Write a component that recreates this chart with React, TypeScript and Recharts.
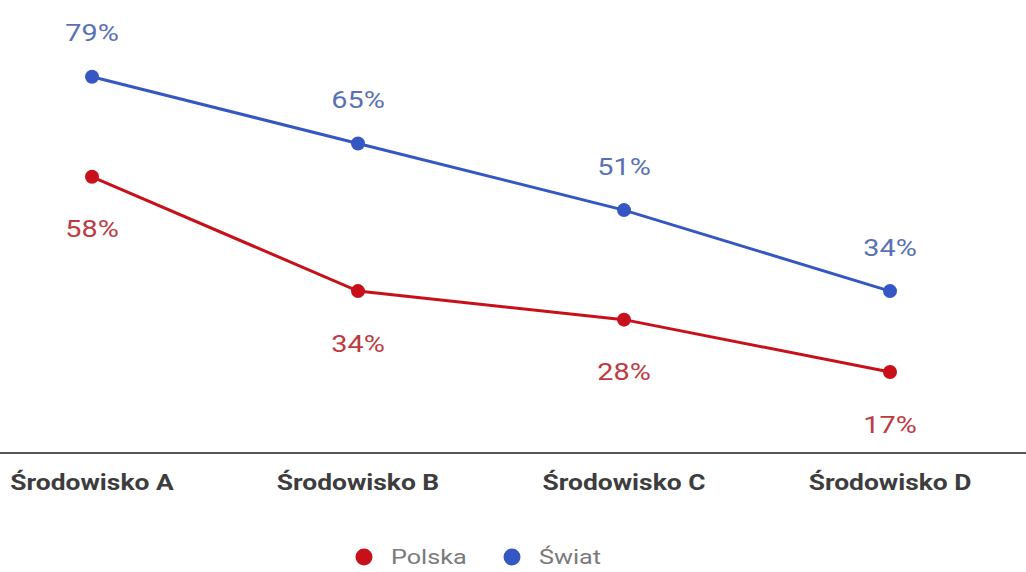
import { LineChart, Line, XAxis, YAxis, Legend } from 'recharts'

const categories = ['Środowisko A', 'Środowisko B', 'Środowisko C', 'Środowisko D']
const polska = [58, 34, 28, 17]
const swiat = [79, 65, 51, 34]

const series = [
  { key: 'polska', name: 'Polska', color: '#c8101a', labelColor: '#bd3a40' },
  { key: 'swiat', name: 'Świat', color: '#3557c4', labelColor: '#5a70b4' },
]

const data = categories.map((name, i) => ({ name, polska: polska[i], swiat: swiat[i] }))

const FONT = 'Roboto, "Noto Sans", sans-serif'
// the reference text looks a bit wide, so stretch it horizontally
const SX = 1.2

function makeLabel(color: string, dy: number) {
  return (props: any) => {
    const { x, y, value, index } = props
    return (
      <text
        key={index}
        transform={`translate(${x},${y + dy}) scale(${SX},1)`}
        fill={color}
        fontSize={24}
        fontFamily={FONT}
        textAnchor="middle"
        dominantBaseline="central"
      >
        {value}%
      </text>
    )
  }
}

function Tick(props: any) {
  const { x, y, payload } = props
  return (
    <text
      transform={`translate(${x},${y}) scale(${SX},1)`}
      fill="#3d3d3d"
      fontSize={22}
      fontWeight={700}
      fontFamily={FONT}
      textAnchor="middle"
      dominantBaseline="central"
    >
      {payload.value}
    </text>
  )
}

function LegendContent() {
  return (
    <div style={{ display: 'flex', alignItems: 'center', fontFamily: FONT }}>
      {series.map((s, i) => (
        <div key={s.key} style={{ display: 'flex', alignItems: 'center', marginRight: i === 0 ? 49 : 0 }}>
          <svg width={18} height={18} style={{ marginRight: 18 }}>
            <circle cx={9} cy={9} r={8.5} fill={s.color} />
          </svg>
          <span
            style={{
              color: '#7a7a7a',
              fontSize: 21,
              display: 'inline-block',
              transform: `scaleX(${SX})`,
              transformOrigin: 'left center',
            }}
          >
            {s.name}
          </span>
        </div>
      ))}
    </div>
  )
}

export default function App() {
  return (
    <div style={{ position: 'absolute', left: 0, top: 0, width: 1026, height: 572, background: '#fff' }}>
      <LineChart width={1026} height={572} data={data} margin={{ top: 72, right: 0, bottom: 0, left: 0 }}>
        <XAxis
          dataKey="name"
          padding={{ left: 92, right: 136 }}
          axisLine={{ stroke: '#555', strokeWidth: 2 }}
          tickLine={false}
          tickSize={0}
          tickMargin={29}
          height={119}
          tick={<Tick />}
          interval={0}
        />
        <YAxis hide domain={[0, 80]} />
        <Legend
          verticalAlign="middle"
          align="center"
          layout="horizontal"
          content={<LegendContent />}
          wrapperStyle={{ top: 545, left: 355, width: 400 }}
        />
        {series.map((s) => (
          <Line
            key={s.key}
            dataKey={s.key}
            name={s.name}
            type="linear"
            stroke={s.color}
            strokeWidth={3}
            dot={{ r: 7, fill: s.color, stroke: 'none' }}
            activeDot={false}
            isAnimationActive={false}
            label={makeLabel(s.labelColor, s.key === 'swiat' ? -44 : 52)}
          />
        ))}
      </LineChart>
    </div>
  )
}
